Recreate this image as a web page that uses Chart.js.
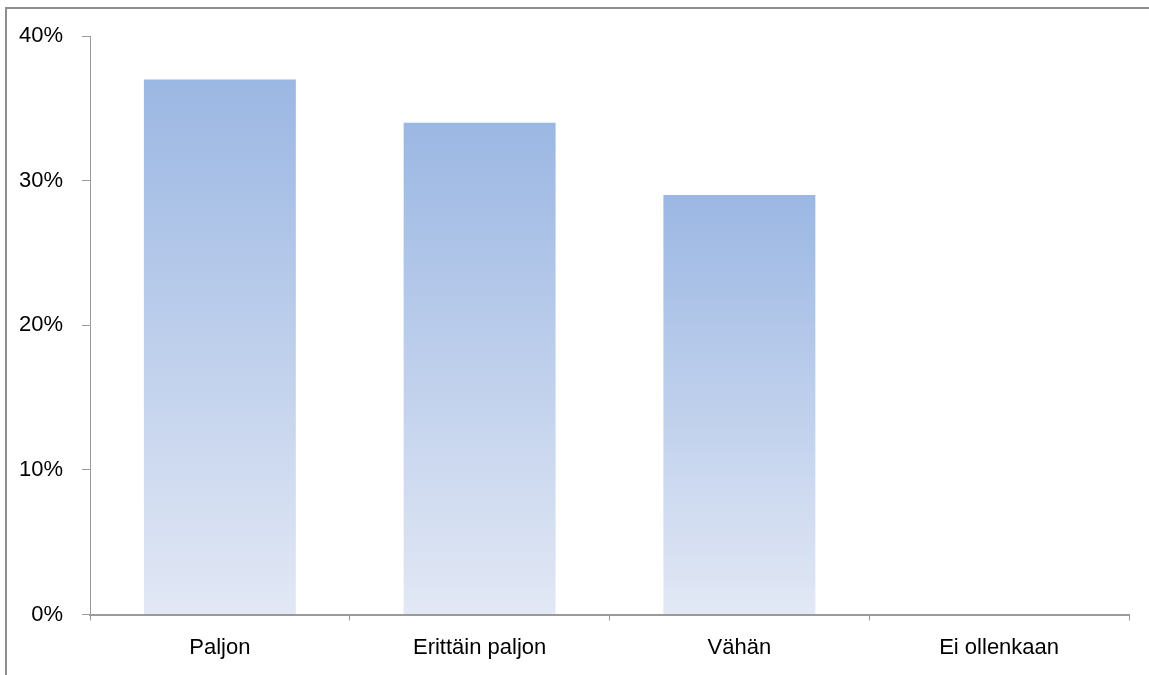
<!DOCTYPE html>
<html>
<head>
<meta charset="utf-8">
<script src="https://cdn.jsdelivr.net/npm/chart.js@4/dist/chart.umd.min.js"></script>
<style>
  html, body { margin: 0; padding: 0; background: #fff; }
  #wrap { position: relative; width: 1149px; height: 675px; }
  canvas { display: block; }
</style>
</head>
<body>
<div id="wrap"><canvas id="c" width="1149" height="675"></canvas></div>
<script>
// Vastausvaihtoehdot ja niiden osuudet (%)
const categories = ['Paljon', 'Erittäin paljon', 'Vähän', 'Ei ollenkaan'];
const shares = [37, 34, 29, 0];
const yTicks = [0, 10, 20, 30, 40];

const TOP_COLOR = 'rgb(155,183,227)';
const BOTTOM_COLOR = 'rgb(226,232,245)';
const AXIS_COLOR = '#9a9a9a';
const FONT = { family: '"Liberation Sans", Arial, sans-serif', size: 22 };

// Each bar fades from its own top down to the baseline
function barGradient(ctx) {
  const chart = ctx.chart;
  if (!chart.chartArea || ctx.type !== 'data') return TOP_COLOR;
  const y = chart.scales.y;
  const top = y.getPixelForValue(ctx.raw);
  const base = y.getPixelForValue(0);
  if (!isFinite(top) || Math.abs(base - top) < 1) return TOP_COLOR;
  const g = chart.ctx.createLinearGradient(0, top, 0, base);
  g.addColorStop(0, TOP_COLOR);
  g.addColorStop(1, BOTTOM_COLOR);
  return g;
}

// Outer frame of the chart object
const framePlugin = {
  id: 'frame',
  afterDraw(chart) {
    const c = chart.ctx;
    c.save();
    c.strokeStyle = '#8e8e8e';
    c.lineWidth = 2;
    c.beginPath();
    c.moveTo(6, chart.height + 2);
    c.lineTo(6, 8);
    c.lineTo(chart.width + 2, 8);
    c.stroke();
    c.restore();
  }
};

new Chart(document.getElementById('c'), {
  type: 'bar',
  data: {
    labels: categories,
    datasets: [{
      data: shares,
      backgroundColor: barGradient,
      borderWidth: 0,
      categoryPercentage: 1,
      barPercentage: 0.585
    }]
  },
  options: {
    responsive: false,
    animation: false,
    devicePixelRatio: 1,
    layout: { padding: { top: 36, right: 20, left: 0, bottom: 0 } },
    plugins: { legend: { display: false }, tooltip: { enabled: false } },
    scales: {
      x: {
        grid: { offset: true, drawOnChartArea: false, drawTicks: true, tickLength: 6, color: AXIS_COLOR, lineWidth: 1 },
        border: { display: true, color: AXIS_COLOR, width: 2 },
        ticks: { color: '#000', font: FONT, padding: 14, maxRotation: 0 },
        afterFit(scale) { scale.height = 60.5; }
      },
      y: {
        min: 0,
        max: 40,
        afterBuildTicks(scale) { scale.ticks = yTicks.map(v => ({ value: v })); },
        grid: { drawOnChartArea: false, drawTicks: true, tickLength: 8, color: AXIS_COLOR, lineWidth: 1 },
        border: { display: true, color: AXIS_COLOR, width: 1 },
        ticks: { color: '#000', font: FONT, padding: 19, callback: v => v + '%' },
        afterFit(scale) { scale.width = 90; }
      }
    }
  },
  plugins: [framePlugin]
});
</script>
</body>
</html>
